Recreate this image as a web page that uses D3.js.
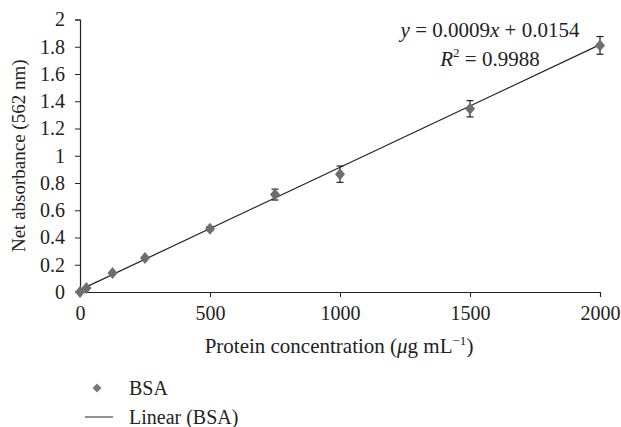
<!DOCTYPE html>
<html>
<head>
<meta charset="utf-8">
<script src="https://cdn.jsdelivr.net/npm/d3@7"></script>
<style>
  body { margin: 0; background: #fff; }
  svg text { font-family: "Liberation Serif", "DejaVu Serif", serif; fill: #222; }
</style>
</head>
<body>
<div id="chart"></div>
<script>
// 数据：浓度、吸光度、误差
const concentrations = [0, 25, 125, 250, 500, 750, 1000, 1500, 2000];
const absorbance = [0, 0.03, 0.14, 0.25, 0.465, 0.715, 0.865, 1.345, 1.81];
const errors = [0, 0, 0, 0, 0.015, 0.04, 0.06, 0.06, 0.065];
const xTicks = [0, 500, 1000, 1500, 2000];
const yTicks = [0, 0.2, 0.4, 0.6, 0.8, 1, 1.2, 1.4, 1.6, 1.8, 2];
const slope = 0.0009, intercept = 0.0154;

const width = 621, height = 427;
const margin = {top: 19.5, right: 21, bottom: 135, left: 80};

const svg = d3.select('#chart')
  .append('svg')
  .attr('width', width)
  .attr('height', height);

const x = d3.scaleLinear().domain([0, 2000]).range([margin.left, width - margin.right]);
const y = d3.scaleLinear().domain([0, 2]).range([height - margin.bottom, margin.top]);

// X 轴
const xAxis = svg.append('g')
  .attr('transform', `translate(0,${y(0)})`)
  .call(d3.axisBottom(x).tickValues(xTicks).tickSize(5).tickPadding(9).tickFormat(d3.format('d')));

// Y 轴
const yAxis = svg.append('g')
  .attr('transform', `translate(${x(0)},0)`)
  .call(d3.axisLeft(y).tickValues(yTicks).tickSize(5).tickPadding(10).tickFormat(d => d3.format('~g')(d)));

[xAxis, yAxis].forEach(g => {
  g.select('.domain').attr('stroke', '#222').attr('stroke-width', 1.2);
  g.selectAll('.tick line').attr('stroke', '#222');
  g.selectAll('.tick text').style('font-family', '"Liberation Serif", serif').style('font-size', '20px').attr('fill', '#222');
});

// 趋势线
svg.append('line')
  .attr('x1', x(0)).attr('y1', y(intercept))
  .attr('x2', x(2000)).attr('y2', y(slope * 2000 + intercept))
  .attr('stroke', '#222').attr('stroke-width', 1.2);

const pts = concentrations.map((c, i) => ({c, v: absorbance[i], e: errors[i]}));

// 误差棒
const eb = svg.append('g').attr('stroke', '#222').attr('stroke-width', 1.2);
pts.filter(d => d.e > 0).forEach(d => {
  const cx = x(d.c);
  eb.append('line').attr('x1', cx).attr('x2', cx).attr('y1', y(d.v - d.e)).attr('y2', y(d.v + d.e));
  eb.append('line').attr('x1', cx - 3.5).attr('x2', cx + 3.5).attr('y1', y(d.v + d.e)).attr('y2', y(d.v + d.e));
  eb.append('line').attr('x1', cx - 3.5).attr('x2', cx + 3.5).attr('y1', y(d.v - d.e)).attr('y2', y(d.v - d.e));
});

// 菱形点
const diamond = 'M0,-6L5,0L0,6L-5,0Z';
svg.append('g').selectAll('path')
  .data(pts)
  .join('path')
  .attr('d', diamond)
  .attr('transform', d => `translate(${x(d.c)},${y(d.v)})`)
  .attr('fill', '#6e6e6e');

// 公式
const eq = svg.append('text')
  .attr('x', 490).attr('y', 37)
  .attr('text-anchor', 'middle')
  .style('font-size', '21px');
eq.append('tspan').attr('font-style', 'italic').text('y');
eq.append('tspan').text(' = 0.0009');
eq.append('tspan').attr('font-style', 'italic').text('x');
eq.append('tspan').text(' + 0.0154');

const r2 = svg.append('text')
  .attr('x', 490).attr('y', 66)
  .attr('text-anchor', 'middle')
  .style('font-size', '21px');
r2.append('tspan').attr('font-style', 'italic').text('R');
r2.append('tspan').attr('dy', -9).style('font-size', '13px').text('2');
r2.append('tspan').attr('dy', 9).text(' = 0.9988');

// 轴标题
svg.append('text')
  .attr('transform', `translate(25,${(y(0) + y(2)) / 2}) rotate(-90)`)
  .attr('text-anchor', 'middle')
  .style('font-size', '19px')
  .text('Net absorbance (562 nm)');

const xt = svg.append('text')
  .attr('x', 339).attr('y', 353)
  .attr('text-anchor', 'middle')
  .style('font-size', '21px');
xt.append('tspan').text('Protein concentration (');
xt.append('tspan').attr('font-style', 'italic').text('μ');
xt.append('tspan').text('g mL');
xt.append('tspan').attr('dy', -8).style('font-size', '13px').text('−1');
xt.append('tspan').attr('dy', 8).text(')');

// 图例
svg.append('path').attr('d', 'M0,-4.5L4.5,0L0,4.5L-4.5,0Z')
  .attr('transform', 'translate(97,388)').attr('fill', '#7a7a7a');
svg.append('text').attr('x', 129).attr('y', 395).style('font-size', '20px').text('BSA');
svg.append('line').attr('x1', 85).attr('x2', 113).attr('y1', 417).attr('y2', 417)
  .attr('stroke', '#555').attr('stroke-width', 1.3);
svg.append('text').attr('x', 129).attr('y', 424).style('font-size', '20px').text('Linear (BSA)');
</script>
</body>
</html>
